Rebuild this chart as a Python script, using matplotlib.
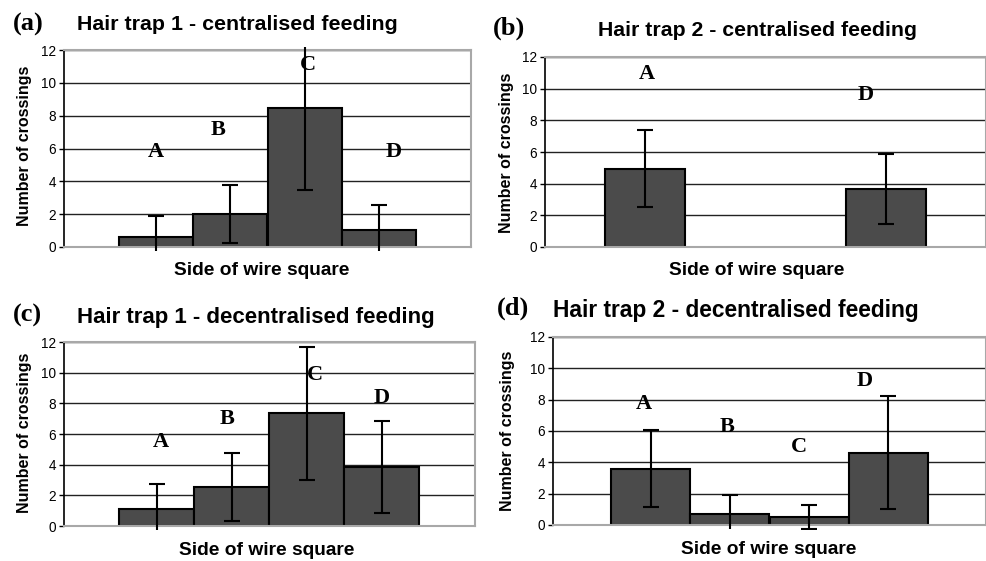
import matplotlib
matplotlib.use('Agg')
import matplotlib.pyplot as plt
from matplotlib.transforms import Bbox, TransformedBbox
import numpy as np

# Data: mean crossings and error (one side) per side
sides = ['A', 'B', 'C', 'D']
a_mean = [0.58, 2.02, 8.46, 1.02]
a_err = [1.31, 1.78, 5.00, 1.56]
b_mean = [4.95, np.nan, np.nan, 3.68]
b_err = [2.45, np.nan, np.nan, 2.20]
c_mean = [1.13, 2.55, 7.35, 3.82]
c_err = [1.60, 2.20, 4.34, 3.00]
d_mean = [3.60, 0.72, 0.51, 4.62]
d_err = [2.47, 1.22, 0.79, 3.60]
# Letter heights above bars
a_lab_y = [5.5, 6.8, 10.8, 5.5]
b_lab_y = [10.6, np.nan, np.nan, 9.3]
c_lab_y = [5.17, 6.65, 9.5, 8.05]
d_lab_y = [7.43, 5.94, 4.66, 8.85]
yticks = [0, 2, 4, 6, 8, 10, 12]

W, H = 987, 561
fig = plt.figure(figsize=(W / 100, H / 100), dpi=100)

sans = 'Liberation Sans'
serif = 'Liberation Serif'

def px(x, y):
    return x / W, 1 - y / H

panels = [
    # letter, title, means, errs, label y, label x offsets, axes box (l, t, r, b) px,
    # letter pos, title pos, title size, xlabel pos, ylabel pos
    ('(a)', 'Hair trap 1 - centralised feeding', a_mean, a_err, a_lab_y,
     [0.0, -0.16, 0.04, 0.2], (64, 50, 471, 247), (13, 31), (77, 30), 15.4,
     (262, 275), (25, 146)),
    ('(b)', 'Hair trap 2 - centralised feeding', b_mean, b_err, b_lab_y,
     [0.03, 0, 0, -0.26], (545, 57, 986, 247), (493, 35), (598, 36), 15.3,
     (757, 275), (506, 153)),
    ('(c)', 'Hair trap 1 - decentralised feeding', c_mean, c_err, c_lab_y,
     [0.05, -0.06, 0.11, 0.0], (64, 342, 475, 526), (13, 322), (77, 323), 16.0,
     (267, 555), (25, 433)),
    ('(d)', 'Hair trap 2 - decentralised feeding', d_mean, d_err, d_lab_y,
     [-0.085, -0.035, -0.13, -0.29], (553, 337, 986, 525), (497, 315), (553, 317), 16.4,
     (769, 554), (508, 431)),
]

x = np.arange(len(sides))
for (letter, title, mean, err, lab_y, lab_dx, box, lpos, tpos, tsize,
     xlpos, ylpos) in panels:
    l, t, r, b = box
    ax = fig.add_axes([l / W, 1 - b / H, (r - l) / W, (b - t) / H])
    ax.set_xlim(-1.24, 4.24)
    ax.set_ylim(0, 12)
    ax.set_yticks(yticks)
    ax.set_xticks([])
    ax.yaxis.grid(True, color='#222222', linewidth=1.0)
    ax.set_axisbelow(True)
    for s in ['top', 'right', 'bottom']:
        ax.spines[s].set_color('#a8a8a8')
        ax.spines[s].set_linewidth(1.5)
    ax.spines['left'].set_color('black')
    ax.spines['left'].set_linewidth(1.2)
    ax.tick_params(axis='y', direction='out', length=3.5, width=1.0,
                   labelsize=9.8, pad=2)
    for lab in ax.get_yticklabels():
        lab.set_fontfamily(sans)

    m = np.array(mean, dtype=float)
    e = np.array(err, dtype=float)
    ok = ~np.isnan(m)
    ax.bar(x[ok], m[ok], width=1.0, color='#4b4b4b', edgecolor='black',
           linewidth=1.5, zorder=2)
    eb = ax.errorbar(x[ok], m[ok], yerr=e[ok], fmt='none', ecolor='black',
                     elinewidth=1.5, capsize=6, capthick=1.5, zorder=3)
    # Error bars are clipped just outside the plot area
    clip = TransformedBbox(Bbox([[0, -0.02], [1, 1.015]]), ax.transAxes)
    for art in list(eb.lines[1]) + list(eb.lines[2]):
        art.set_clip_box(clip)

    for i, s in enumerate(sides):
        if np.isnan(lab_y[i]):
            continue
        ax.text(x[i] + lab_dx[i], lab_y[i], s, ha='center', va='baseline',
                fontsize=16, fontweight='bold', family=serif)

    fig.text(*px(*lpos), letter, ha='left', va='baseline', fontsize=19,
             fontweight='bold', family=serif)
    fig.text(*px(*tpos), title, ha='left', va='baseline', fontsize=tsize,
             fontweight='bold', family=sans)
    fig.text(*px(*xlpos), 'Side of wire square', ha='center', va='baseline',
             fontsize=13.8, fontweight='bold', family=sans)
    fig.text(*px(*ylpos), 'Number of crossings', ha='center', va='center',
             rotation=90, fontsize=11.5, fontweight='bold', family=sans)

fig.savefig('out.png', dpi=100)
